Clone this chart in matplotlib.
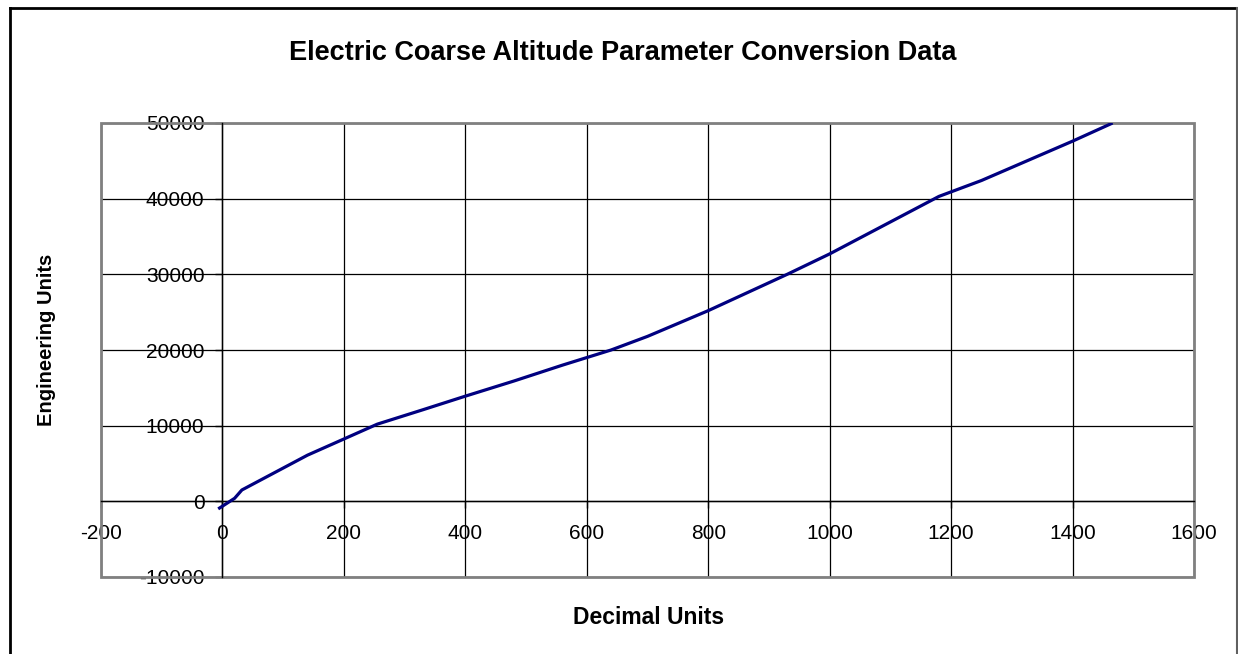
import matplotlib
matplotlib.use("Agg")
import matplotlib.pyplot as plt
from matplotlib.lines import Line2D
from matplotlib.patches import Rectangle

plt.rcParams['font.family'] = ['Liberation Sans', 'DejaVu Sans']
plt.rcParams['axes.unicode_minus'] = False

# conversion table
decimal_units = [-7, 20, 32, 140, 255, 330, 400, 480, 560, 640, 700, 800, 930, 1000, 1180, 1250, 1400, 1466]
eng_units = [-1000, 400, 1500, 6100, 10200, 12100, 13900, 15900, 18000, 20000, 21800,
             25200, 30000, 32700, 40300, 42400, 47600, 50000]

x_ticks = [-200, 0, 200, 400, 600, 800, 1000, 1200, 1400, 1600]
y_ticks = [-10000, 0, 10000, 20000, 30000, 40000, 50000]

W, H = 1238, 654
fig = plt.figure(figsize=(W / 100, H / 100), dpi=100)
ax = fig.add_axes([101 / W, 1 - 577 / H, 1093 / W, 454 / H])

ax.set_xlim(-200, 1600)
ax.set_ylim(-10000, 50000)
ax.set_xticks(x_ticks)
ax.set_yticks(y_ticks)
ax.grid(True, color='black', linewidth=0.9)
ax.set_axisbelow(True)

# axes cross at zero like the spreadsheet chart
for s in ['top', 'right']:
    ax.spines[s].set_visible(False)
ax.spines['left'].set_position(('data', 0))
ax.spines['bottom'].set_position(('data', 0))
ax.spines['left'].set_linewidth(1.0)
ax.spines['bottom'].set_linewidth(1.0)
ax.add_patch(Rectangle((0, 0), 1, 1, transform=ax.transAxes, fill=False,
                       edgecolor='#808080', linewidth=2, zorder=2.5, clip_on=False))

ax.tick_params(axis='both', direction='out', length=5, width=1, labelsize=15, color='black')
ax.tick_params(axis='x', pad=11)
ax.tick_params(axis='y', pad=8)

ax.plot(decimal_units, eng_units, color='#000080', linewidth=2.3, zorder=3,
        solid_joinstyle='round', solid_capstyle='butt')

fig.text(623 / W, 1 - 53 / H, 'Electric Coarse Altitude Parameter Conversion Data',
         ha='center', va='center', fontsize=19.5, fontweight='bold')
fig.text(649 / W, 1 - 617 / H, 'Decimal Units', ha='center', va='center',
         fontsize=16.5, fontweight='bold')
fig.text(47 / W, 1 - 340 / H, 'Engineering Units', ha='center', va='center',
         rotation=90, fontsize=14.5, fontweight='bold')

# outer chart frame
fig.add_artist(Line2D([10 / W, 10 / W], [0, 1 - 8 / H], color='black', linewidth=2,
                      transform=fig.transFigure))
fig.add_artist(Line2D([10 / W, 1236.5 / W], [1 - 8 / H, 1 - 8 / H], color='black', linewidth=2,
                      transform=fig.transFigure))
fig.add_artist(Line2D([1236.5 / W, 1236.5 / W], [0, 1 - 8 / H], color='#606060', linewidth=1.5,
                      transform=fig.transFigure))

fig.savefig('out.png', dpi=100)
